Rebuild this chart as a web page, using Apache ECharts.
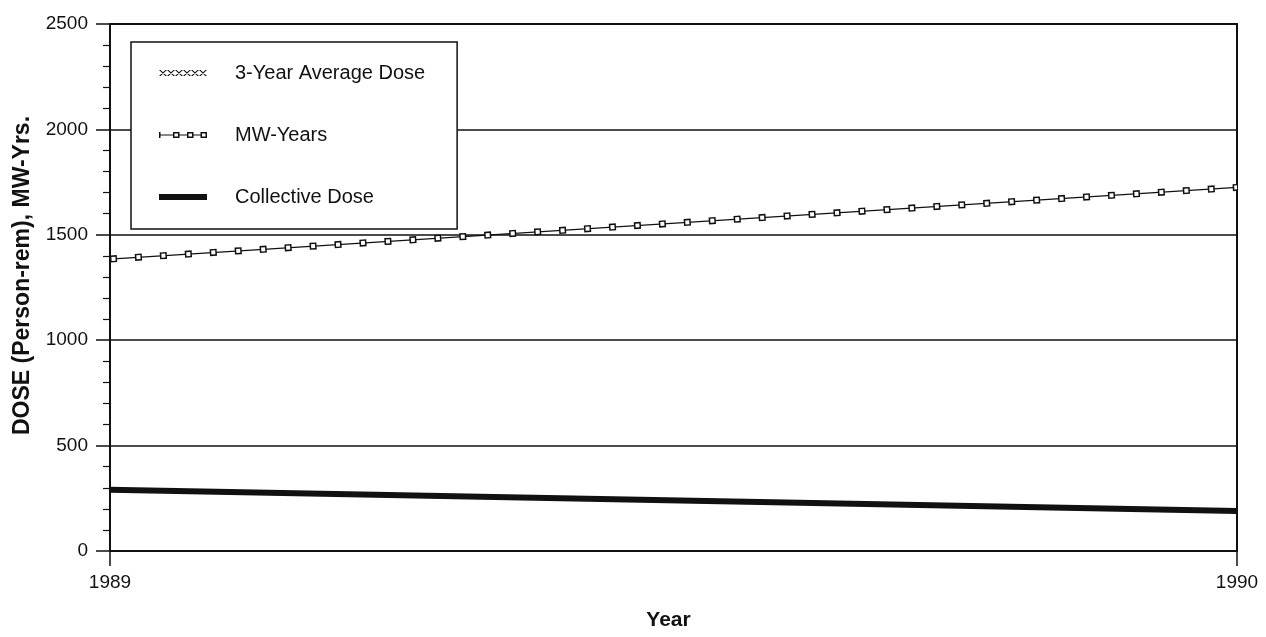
<!DOCTYPE html>
<html>
<head>
<meta charset="utf-8">
<script src="https://cdn.jsdelivr.net/npm/echarts@6/dist/echarts.min.js"></script>
<style>
html,body{margin:0;padding:0;background:#fff;}
#chart{width:1266px;height:637px;}
</style>
</head>
<body>
<div id="chart"></div>
<script>
// ---- data ----
var years = [1989, 1990];
var mwYears = [1385, 1725];
var collectiveDose = [290, 190];
var threeYearAvg = [];           // no separate line visible in the plot
var yTicks = [0, 500, 1000, 1500, 2000, 2500];
var seriesNames = ['3-Year Average Dose', 'MW-Years', 'Collective Dose'];

function pairs(xs, ys) { return ys.map(function (v, i) { return [xs[i], v]; }); }

var FONT = "'Liberation Sans', Arial, sans-serif";
var INK = '#111';

var crossIcon = 'path://' + (function () {
  var s = '';
  for (var i = 0; i < 6; i++) {
    var x = 8 * i;
    s += 'M' + x + ',0L' + (x + 1.6) + ',0L' + (x + 8) + ',6L' + (x + 6.4) + ',6Z';
    s += 'M' + (x + 6.4) + ',0L' + (x + 8) + ',0L' + (x + 1.6) + ',6L' + x + ',6Z';
  }
  return s;
})();
var mwIcon = 'path://M0,0.5H1.5V6.5H0Z M0,3H14V4H0Z M14,0.5H20.5V6.5H14Z M15.5,2V5H19V2Z M20.5,3H28V4H20.5Z M28,0.5H34.5V6.5H28Z M29.5,2V5H33V2Z M34.5,3H41.5V4H34.5Z M41.5,0.5H48V6.5H41.5Z M43,2V5H46.5V2Z';
var barIcon = 'path://M0,0H48V6H0Z';

var chart = echarts.init(document.getElementById('chart'));
chart.setOption({
  backgroundColor: '#fff',
  animation: false,
  grid: { left: 110, right: 29, top: 24, bottom: 86, show: true, borderColor: INK, borderWidth: 2, backgroundColor: 'transparent' },
  legend: {
    orient: 'vertical',
    left: 131, top: 42,
    padding: [19, 32, 20, 28],
    itemGap: 38,
    itemWidth: 48, itemHeight: 10,
    borderColor: INK, borderWidth: 1.5,
    backgroundColor: '#fff',
    selectedMode: false,
    textStyle: { fontFamily: FONT, fontSize: 20, color: INK, lineHeight: 24, padding: [0, 0, 0, 23] },
    data: [
      { name: seriesNames[0], icon: crossIcon },
      { name: seriesNames[1], icon: mwIcon },
      { name: seriesNames[2], icon: barIcon }
    ]
  },
  xAxis: {
    type: 'value', min: years[0], max: years[1], interval: 1,
    name: 'Year', nameLocation: 'middle', nameGap: 59,
    nameTextStyle: { fontFamily: FONT, fontWeight: 'bold', fontSize: 21, color: INK, padding: [0, 10, 0, 0] },
    axisLine: { show: true, lineStyle: { color: INK, width: 2 } },
    axisTick: { show: true, length: 15, lineStyle: { color: INK, width: 1.5 } },
    axisLabel: { margin: 22, fontFamily: FONT, fontSize: 19, color: INK, formatter: function (v) { return String(v); } },
    splitLine: { show: false }
  },
  yAxis: {
    type: 'value', min: yTicks[0], max: yTicks[yTicks.length - 1], interval: 500,
    name: 'DOSE (Person-rem), MW-Yrs.', nameLocation: 'middle', nameGap: 76, nameRotate: 90,
    nameTextStyle: { fontFamily: FONT, fontWeight: 'bold', fontSize: 23, color: INK, padding: [0, 0, 0, 24] },
    axisLine: { show: true, lineStyle: { color: INK, width: 2 } },
    axisTick: { show: true, length: 14, lineStyle: { color: INK, width: 1.5 } },
    minorTick: { show: true, splitNumber: 5, length: 7, lineStyle: { color: INK, width: 1.2 } },
    axisLabel: { margin: 22, fontFamily: FONT, fontSize: 19, color: INK, formatter: function (v) { return String(v); } },
    splitLine: { show: true, lineStyle: { color: INK, width: 1.5 } }
  },
  series: [
    { name: seriesNames[0], type: 'line', data: pairs(years, threeYearAvg), symbol: 'none', color: INK,
      lineStyle: { color: INK, width: 1 } },
    { name: seriesNames[1], type: 'line', data: pairs(years, mwYears), symbol: 'none', color: INK,
      lineStyle: { color: INK, width: 1.3 }, z: 3 },
    { name: seriesNames[1], type: 'line', data: pairs(years, mwYears), symbol: 'none', color: INK,
      lineStyle: { color: INK, width: 7, type: [7, 18] }, z: 4 },
    { name: seriesNames[1], type: 'line', data: pairs(years, mwYears), symbol: 'none', color: '#fff',
      lineStyle: { color: '#fff', width: 4, type: [4, 21], dashOffset: -1.5 }, z: 5 },
    { name: seriesNames[2], type: 'line', data: pairs(years, collectiveDose), symbol: 'none', color: INK,
      lineStyle: { color: INK, width: 6 }, z: 6 }
  ]
});
</script>
</body>
</html>
